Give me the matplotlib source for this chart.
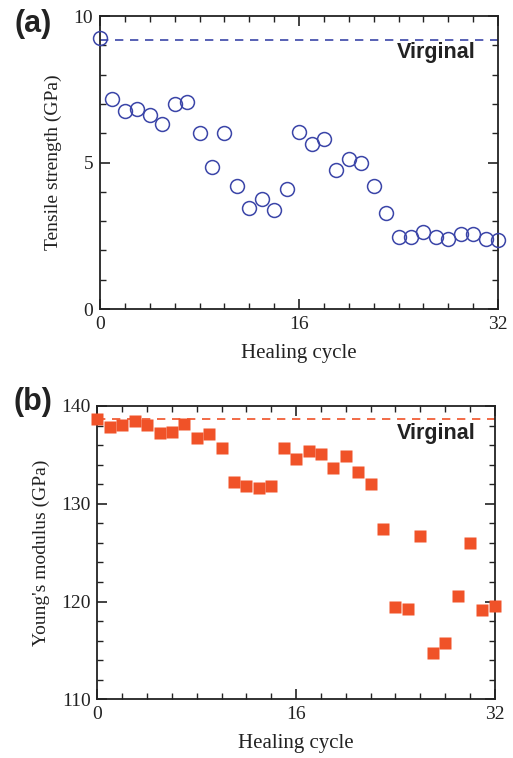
import numpy as np
import matplotlib.pyplot as plt
from matplotlib.ticker import MultipleLocator

# healing cycles 0..32
cycles = np.arange(33)

tensile = [9.26, 7.18, 6.76, 6.84, 6.61, 6.30, 6.99, 7.06, 6.01, 4.85,
           6.01, 4.20, 3.44, 3.74, 3.37, 4.10, 6.04, 5.64, 5.79, 4.74,
           5.12, 4.97, 4.21, 3.27, 2.46, 2.47, 2.63, 2.47, 2.40, 2.55,
           2.55, 2.38, 2.37]
tensile_virgin = 9.2

modulus = [138.67, 137.88, 138.06, 138.43, 138.02, 137.24, 137.31, 138.12,
           136.76, 137.10, 135.74, 132.20, 131.85, 131.62, 131.85, 135.67,
           134.55, 135.37, 135.09, 133.63, 134.86, 133.28, 131.99, 127.45,
           119.41, 119.21, 126.71, 114.73, 115.75, 120.52, 126.0, 119.14,
           119.55]
modulus_virgin = 138.7

blue = "#3b45a8"
orange = "#f05228"
ink = "#222222"
serif = "Liberation Serif"
sans = "Liberation Sans"

fig = plt.figure(figsize=(5.13, 7.58), dpi=100)
ax1 = fig.add_axes([0.195, 0.5923, 0.776, 0.3865])
ax2 = fig.add_axes([0.190, 0.0774, 0.7745, 0.387])


def style_axes(ax):
    for s in ax.spines.values():
        s.set_linewidth(1.3)
        s.set_color(ink)
    ax.tick_params(which="both", direction="in", top=True, right=True,
                   color=ink)
    ax.tick_params(which="major", length=7, width=1.2, labelsize=14, pad=5)
    ax.tick_params(which="minor", length=4, width=1.0)
    for lab in ax.get_xticklabels() + ax.get_yticklabels():
        lab.set_fontfamily(serif)
        lab.set_color(ink)
    ax.set_xlim(0, 32)
    ax.xaxis.set_major_locator(MultipleLocator(16))
    ax.xaxis.set_minor_locator(MultipleLocator(2))
    ax.set_xlabel("Healing cycle", family=serif, fontsize=15,
                  color=ink, labelpad=8)


# (a) tensile strength
ax1.plot(cycles, tensile, "o", ms=10, mfc="none", mec=blue, mew=1.1,
         clip_on=False, zorder=3)
ax1.axhline(tensile_virgin, color=blue, ls=(0, (5, 4)), lw=1.2)
ax1.set_ylim(0, 10)
ax1.yaxis.set_major_locator(MultipleLocator(5))
ax1.yaxis.set_minor_locator(MultipleLocator(1))
style_axes(ax1)
ax1.set_ylabel("Tensile strength (GPa)", family=serif, fontsize=14,
               color=ink, labelpad=8)
ax1.text(27.0, 8.74, "Virginal", family=sans, weight="bold", fontsize=15.5,
         ha="center", va="center", color=ink)

# (b) Young's modulus
ax2.plot(cycles, modulus, "s", ms=8.5, mfc=orange, mec="none",
         clip_on=False, zorder=3)
ax2.axhline(modulus_virgin, color=orange, ls=(0, (5, 4)), lw=1.2)
ax2.set_ylim(110, 140)
ax2.yaxis.set_major_locator(MultipleLocator(10))
ax2.yaxis.set_minor_locator(MultipleLocator(2))
style_axes(ax2)
ax2.set_ylabel("Young's modulus (GPa)", family=serif, fontsize=14,
               color=ink, labelpad=8)
ax2.text(27.3, 137.2, "Virginal", family=sans, weight="bold", fontsize=15.5,
         ha="center", va="center", color=ink)

fig.text(33 / 513, 1 - 24 / 758, "(a)", family=sans, weight="bold",
         fontsize=22, ha="center", va="center", color=ink)
fig.text(33 / 513, 1 - 402 / 758, "(b)", family=sans, weight="bold",
         fontsize=22, ha="center", va="center", color=ink)

fig.savefig("out.png", dpi=100)
